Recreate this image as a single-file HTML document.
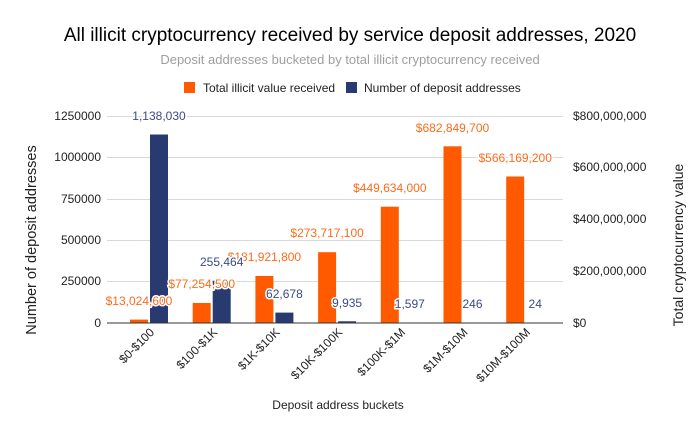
<!DOCTYPE html>
<html><head><meta charset="utf-8"><style>body{margin:0;background:#fff}svg{display:block}</style></head>
<body>
<svg width="700" height="433" xmlns="http://www.w3.org/2000/svg" font-family="Liberation Sans, Arial, sans-serif">
<rect width="700" height="433" fill="#fff"/>
<text x="350" y="41" text-anchor="middle" font-size="19" fill="#000">All illicit cryptocurrency received by service deposit addresses, 2020</text>
<text x="350" y="64" text-anchor="middle" font-size="13" fill="#9e9e9e">Deposit addresses bucketed by total illicit cryptocurrency received</text>
<rect x="184" y="82" width="11" height="11" fill="#ff5a00"/>
<text x="203" y="92" font-size="12" fill="#222">Total illicit value received</text>
<rect x="346" y="82" width="11" height="11" fill="#283a70"/>
<text x="364" y="92" font-size="12" fill="#222">Number of deposit addresses</text>
<g stroke="#d9d9d9" stroke-width="1">
<line x1="107" x2="563" y1="116.5" y2="116.5"/><line x1="107" x2="563" y1="157.5" y2="157.5"/><line x1="107" x2="563" y1="199.5" y2="199.5"/><line x1="107" x2="563" y1="240.5" y2="240.5"/><line x1="107" x2="563" y1="281.5" y2="281.5"/>
</g>
<g font-size="12" fill="#222" text-anchor="end">
<text x="101" y="120">1250000</text><text x="101" y="161">1000000</text><text x="101" y="203">750000</text><text x="101" y="244">500000</text><text x="101" y="285">250000</text><text x="101" y="327">0</text>
</g>
<g font-size="12" fill="#222">
<text x="573" y="120">$800,000,000</text><text x="573" y="171">$600,000,000</text><text x="573" y="223">$400,000,000</text><text x="573" y="275">$200,000,000</text><text x="573" y="327">$0</text>
</g>
<text transform="translate(36,240) rotate(-90)" text-anchor="middle" font-size="14.5" fill="#222">Number of deposit addresses</text>
<text transform="translate(683,245) rotate(-90)" text-anchor="middle" font-size="14" fill="#222">Total cryptocurrency value</text>
<g fill="#ff5a00">
<rect x="130" y="319.6" width="18" height="3.4"/>
<rect x="192.7" y="303" width="18" height="20"/>
<rect x="255.4" y="276" width="18" height="47"/>
<rect x="318.1" y="252.2" width="18" height="70.8"/>
<rect x="380.8" y="206.7" width="18" height="116.3"/>
<rect x="443.5" y="146.3" width="18" height="176.7"/>
<rect x="506.2" y="176.5" width="18" height="146.5"/>
</g>
<g fill="#283a70">
<rect x="150" y="134.5" width="18" height="188.5"/>
<rect x="212.7" y="280.7" width="18" height="42.3"/>
<rect x="275.4" y="312.6" width="18" height="10.4"/>
<rect x="338.1" y="321.3" width="18" height="1.7"/>
<rect x="400.8" y="322.6" width="18" height="0.4"/>
</g>
<line x1="107" x2="563" y1="323" y2="323" stroke="#333" stroke-width="1"/>
<g font-size="12" fill="#ff6a1a" text-anchor="middle" stroke="#fff" stroke-width="3" paint-order="stroke">
<text x="139" y="305">$13,024,600</text>
<text x="201.7" y="288">$77,254,500</text>
<text x="264.4" y="261">$181,921,800</text>
<text x="327.1" y="237">$273,717,100</text>
<text x="389.8" y="192">$449,634,000</text>
<text x="452.5" y="132">$682,849,700</text>
<text x="515.2" y="162">$566,169,200</text>
</g>
<g font-size="12" fill="#3a4a85" text-anchor="middle" stroke="#fff" stroke-width="3" paint-order="stroke">
<text x="159" y="120">1,138,030</text>
<text x="221.7" y="266">255,464</text>
<text x="284.4" y="298">62,678</text>
<text x="347.1" y="307">9,935</text>
<text x="409.8" y="308">1,597</text>
<text x="472.5" y="308">246</text>
<text x="535.2" y="308">24</text>
</g>
<g font-size="12" fill="#222" text-anchor="end">
<text transform="translate(155,333) rotate(-45)">$0-$100</text>
<text transform="translate(218,333) rotate(-45)">$100-$1K</text>
<text transform="translate(280.5,333) rotate(-45)">$1K-$10K</text>
<text transform="translate(343,333) rotate(-45)">$10K-$100K</text>
<text transform="translate(406,333) rotate(-45)">$100K-$1M</text>
<text transform="translate(468.5,333) rotate(-45)">$1M-$10M</text>
<text transform="translate(531,333) rotate(-45)">$10M-$100M</text>
</g>
<text x="338" y="409" text-anchor="middle" font-size="12" fill="#222">Deposit address buckets</text>
</svg>
</body></html>
